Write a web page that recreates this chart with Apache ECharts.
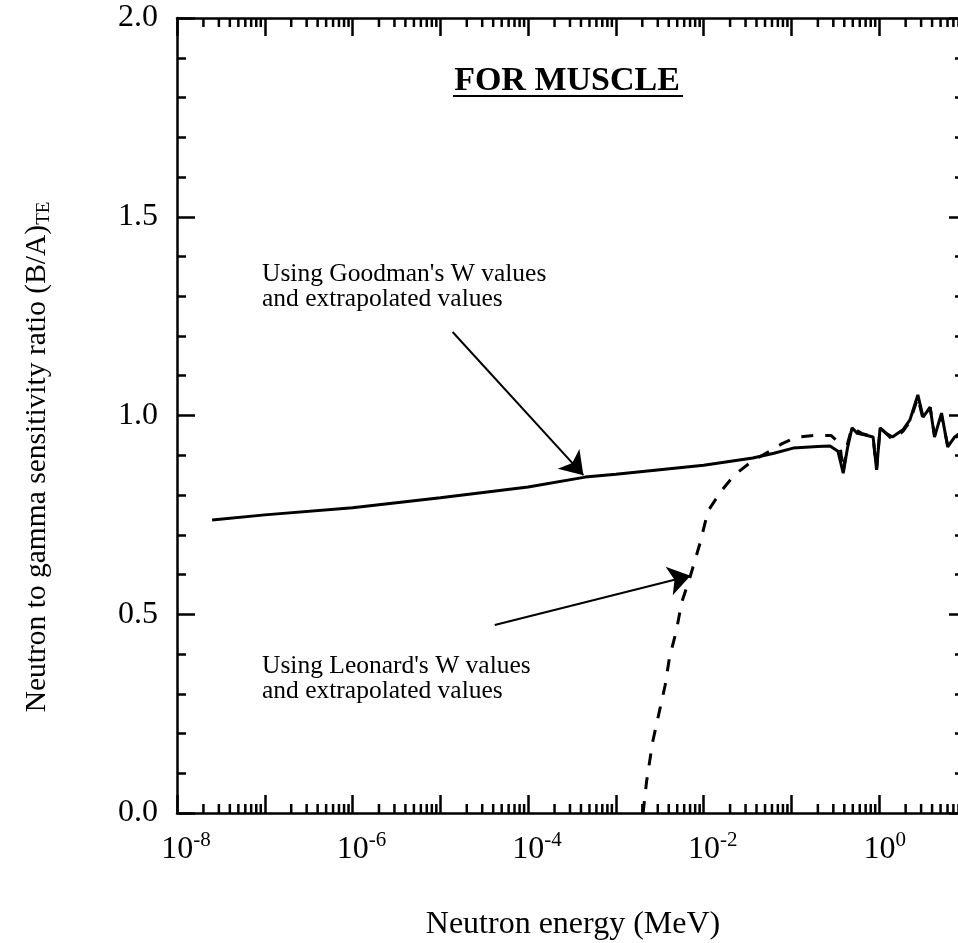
<!DOCTYPE html>
<html><head><meta charset="utf-8">
<script src="https://cdn.jsdelivr.net/npm/echarts@6/dist/echarts.min.js"></script>
<style>html,body{margin:0;padding:0;background:#fff}#c{width:958px;height:943px}</style>
</head><body><div id="c"></div>
<script>
// ---- data (x = log10 of neutron energy in MeV) ----
const xLabelExponents = [-8, -6, -4, -2, 0];
const goodmanLogE = [-7.6, -7, -6, -5, -4, -3.35, -3, -2, -1.44, -1.2, -0.98, -0.7, -0.56, -0.47, -0.41, -0.36, -0.31, -0.25, -0.16, -0.07, -0.03, 0.01, 0.08, 0.15, 0.27, 0.35, 0.44, 0.5, 0.58, 0.63, 0.71, 0.78, 0.86, 0.95];
const goodmanRatio = [0.737, 0.75, 0.768, 0.793, 0.82, 0.845, 0.852, 0.875, 0.893, 0.905, 0.918, 0.922, 0.923, 0.91, 0.855, 0.92, 0.969, 0.955, 0.951, 0.946, 0.863, 0.969, 0.955, 0.946, 0.964, 0.989, 1.052, 0.996, 1.021, 0.946, 1.006, 0.921, 0.946, 0.96];
const leonardLogE = [-2.69, -2.65, -2.58, -2.5, -2.44, -2.39, -2.31, -2.25, -2.16, -2.04, -1.95, -1.8, -1.65, -1.45, -1.25, -1.1, -0.95, -0.75, -0.55, -0.45, -0.41, -0.36, -0.31, -0.2, -0.07, -0.03, 0.01, 0.15, 0.27, 0.35, 0.44, 0.5, 0.58, 0.63, 0.71, 0.78, 0.86, 0.95];
const leonardRatio = [0.0, 0.08, 0.18, 0.26, 0.32, 0.39, 0.46, 0.53, 0.59, 0.68, 0.76, 0.81, 0.85, 0.885, 0.91, 0.93, 0.945, 0.95, 0.95, 0.93, 0.86, 0.93, 0.97, 0.955, 0.946, 0.863, 0.969, 0.94, 0.96, 0.985, 1.045, 0.99, 1.02, 0.95, 1.0, 0.925, 0.945, 0.95];
const arrowGoodman = [[-4.86, 1.21], [-3.37, 0.85]];
const arrowLeonard = [[-4.38, 0.473], [-2.15, 0.597]];
const minorDecades = [-8, -7, -6, -5, -4, -3, -2, -1, 0];
const minorMultipliers = [2, 3, 4, 5, 6, 7, 8, 9];

const FONT = 'Liberation Serif';
const minorTickPos = [];
minorDecades.forEach(d => minorMultipliers.forEach(k => minorTickPos.push([d + Math.log10(k)])));

const chart = echarts.init(document.getElementById('c'), null, {renderer: 'canvas'});

const axisLineStyle = {color: '#000', width: 2.5};
function xAxisCfg(pos, showLabel) {
  return {
    type: 'value', position: pos, min: -8, max: 1, interval: 1,
    axisLine: {show: true, onZero: false, lineStyle: axisLineStyle},
    axisTick: {show: true, inside: true, length: 18, lineStyle: {color: '#000', width: 2.5}},
    splitLine: {show: false},
    axisLabel: showLabel ? {
      show: true, margin: 17, hideOverlap: false,
      formatter: v => {
        const e = Math.round(v);
        if (xLabelExponents.indexOf(e) < 0) return '';
        const pad = e < 0 ? 'p' : 'q';
        return '{' + pad + '|}{b|10}{s|' + e + '}';
      },
      rich: {
        p: {width: 18, lineHeight: 40},
        q: {width: 11, lineHeight: 40},
        b: {fontFamily: FONT, fontSize: 32, color: '#000', lineHeight: 40},
        s: {fontFamily: FONT, fontSize: 21, color: '#000', lineHeight: 20, verticalAlign: 'top'}
      }
    } : {show: false}
  };
}
function yAxisCfg(pos, showLabel, minorLen) {
  return {
    type: 'value', position: pos, min: 0, max: 2, interval: 0.5,
    axisLine: {show: true, onZero: false, lineStyle: axisLineStyle},
    axisTick: {show: true, inside: true, length: 18, lineStyle: {color: '#000', width: 2.5}},
    minorTick: {show: true, splitNumber: 5, length: minorLen, lineStyle: {color: '#000', width: 2.5}},
    splitLine: {show: false}, minorSplitLine: {show: false},
    axisLabel: showLabel ? {show: true, margin: 19, fontFamily: FONT, fontSize: 32, color: '#000',
      formatter: v => v.toFixed(1)} : {show: false}
  };
}

const option = {
  backgroundColor: '#fff',
  animation: false,
  grid: {left: 177, top: 18, width: 790, height: 795, containLabel: false, outerBoundsMode: 'none'},
  xAxis: [xAxisCfg('bottom', true), xAxisCfg('top', false)],
  yAxis: [yAxisCfg('left', true, 9), yAxisCfg('right', false, 12)],
  series: [
    {
      type: 'line', name: "Goodman", data: goodmanLogE.map((x, i) => [x, goodmanRatio[i]]),
      showSymbol: false, symbol: 'none', clip: true,
      lineStyle: {color: '#000', width: 3}
    },
    {
      type: 'line', name: "Leonard", data: leonardLogE.map((x, i) => [x, leonardRatio[i]]),
      showSymbol: false, symbol: 'none', clip: true,
      lineStyle: {color: '#000', width: 3, type: [12, 12]}
    },
    {
      type: 'lines', coordinateSystem: 'cartesian2d', silent: true,
      symbol: ['none', 'arrow'], symbolSize: [14, 22],
      lineStyle: {color: '#000', width: 2, opacity: 1, curveness: 0},
      data: [{coords: arrowGoodman}, {coords: arrowLeonard}]
    },
    {
      type: 'custom', silent: true, clip: false,
      data: minorTickPos,
      renderItem: (params, api) => {
        const x = api.value(0);
        const pb = api.coord([x, 0]);
        const pt = api.coord([x, 2]);
        const st = {stroke: '#000', lineWidth: 2.5};
        return {type: 'group', children: [
          {type: 'line', shape: {x1: pb[0], y1: pb[1], x2: pb[0], y2: pb[1] - 9}, style: st},
          {type: 'line', shape: {x1: pt[0], y1: pt[1], x2: pt[0], y2: pt[1] + 9}, style: st}
        ]};
      }
    }
  ],
  graphic: [
    {type: 'text', x: 567, y: 81, style: {text: 'FOR MUSCLE', font: 'bold 34px "Liberation Serif"', fill: '#000', align: 'center', verticalAlign: 'middle'}},
    {type: 'line', shape: {x1: 453, y1: 96, x2: 683, y2: 96}, style: {stroke: '#000', lineWidth: 2}},
    {type: 'text', x: 262, y: 287, style: {text: "Using Goodman's W values\nand extrapolated values", font: '25.5px "Liberation Serif"', lineHeight: 25, fill: '#000', align: 'left', verticalAlign: 'middle'}},
    {type: 'text', x: 262, y: 679, style: {text: "Using Leonard's W values\nand extrapolated values", font: '25.5px "Liberation Serif"', lineHeight: 25, fill: '#000', align: 'left', verticalAlign: 'middle'}},
    {type: 'text', x: 573, y: 925, style: {text: 'Neutron energy (MeV)', font: '32px "Liberation Serif"', fill: '#000', align: 'center', verticalAlign: 'middle'}},
    {type: 'text', x: 37, y: 457, rotation: Math.PI / 2,
      style: {text: '{m|Neutron to gamma sensitivity ratio (B/A)}{s|TE}', align: 'center', verticalAlign: 'middle',
        rich: {
          m: {fontFamily: FONT, fontSize: 29.5, lineHeight: 34, fill: '#000', color: '#000'},
          s: {fontFamily: FONT, fontSize: 19, lineHeight: 18, verticalAlign: 'bottom', fill: '#000', color: '#000'}
        }}}
  ]
};
chart.setOption(option);
</script>
</body></html>
